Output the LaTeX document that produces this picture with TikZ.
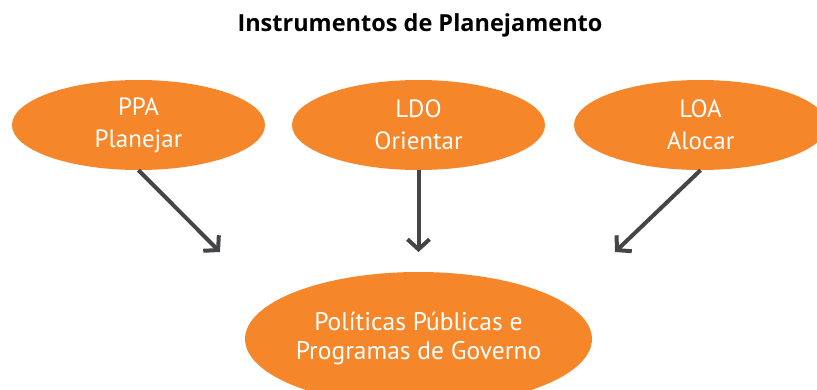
\documentclass[tikz,border=0pt]{standalone}
\usepackage{fontspec}
\setmainfont{PT Sans}
\newfontfamily\titlefont{Open Sans}
\usepackage{tikz}
\usetikzlibrary{shapes.geometric, arrows.meta}
\definecolor{PlanOrange}{RGB}{245,134,42}
\definecolor{ArrowGray}{RGB}{69,68,70}

\begin{document}
\begin{tikzpicture}[x=1pt, y=-1pt,
		instr/.style={ellipse, fill=PlanOrange, text=white, inner sep=0pt,
			minimum width=253pt, minimum height=90pt, align=center,
			font=\fontsize{25}{32}\selectfont},
		flow/.style={ArrowGray, line width=4pt, -{Straight Barb[length=10pt, width=22pt, line width=4pt]}}]
		\useasboundingbox (0, 0) rectangle (817, 389);
		\clip (0, 0) rectangle (817, 389);
		
		\node [font=\titlefont\fontsize{23.5}{28}\selectfont\bfseries] (title) at (420, 25) {Instrumentos de Planejamento};
		
		\node [instr] (ppa) at (138.5, 125) {PPA\\Planejar};
		\node [instr] (ldo) at (418.5, 125) {LDO\\Orientar};
		\node [instr] (loa) at (700.5, 125) {LOA\\Alocar};
		
		\node [instr, minimum width=343pt, minimum height=134pt, font=\fontsize{25.5}{29}\selectfont] (pp) at (418.5, 339) {Políticas Públicas e\\Programas de Governo};
		
		\coordinate (ppaend) at (220, 252);
		\coordinate (ldoend) at (418.5, 252);
		\coordinate (loaend) at (615, 252);
		
		\draw [flow] (ppa.south) -- (ppaend);
		\draw [flow] (ldo.south) -- (ldoend);
		\draw [flow] (loa.south) -- (loaend);
	\end{tikzpicture}
\end{document}
